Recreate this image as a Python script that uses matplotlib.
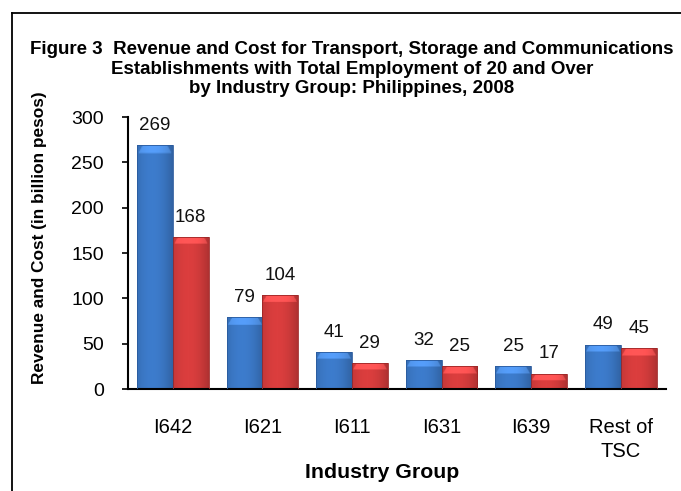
import numpy as np
import matplotlib
matplotlib.use("Agg")
import matplotlib.pyplot as plt
from matplotlib.lines import Line2D
from matplotlib.colors import to_rgb

plt.rcParams['font.family'] = ['Liberation Sans', 'DejaVu Sans']

categories = ["I642", "I621", "I611", "I631", "I639", "Rest of\nTSC"]
revenue = [269, 79, 41, 32, 25, 49]
cost = [168, 104, 29, 25, 17, 45]
yticks = [0, 50, 100, 150, 200, 250, 300]

title = ("Figure 3  Revenue and Cost for Transport, Storage and Communications\n"
         "Establishments with Total Employment of 20 and Over\n"
         "by Industry Group: Philippines, 2008")

W, H = 681, 491
fig = plt.figure(figsize=(W / 100, H / 100), dpi=100)
ax = fig.add_axes([128 / W, 1 - 389 / H, (665.6 - 128) / W, (389 - 117) / H])

x = np.arange(len(categories))
bw = 0.40

def shaded(ax, bars, base, edge):
    base = np.array(to_rgb(base))
    for b in bars:
        x0, y0 = b.get_x(), b.get_y()
        w, h = b.get_width(), b.get_height()
        nx, ny = 60, 120
        t = np.linspace(0, 1, nx)
        prof = 0.80 + 0.28 * np.sin(np.pi * (0.15 + 0.7 * t)) - 0.10 * t
        img = np.clip(base[None, None, :] * prof[None, :, None] * np.ones((ny, 1, 1)), 0, 1)
        # top bevel highlight (trapezoid)
        band = min(8.0 / h, 0.45)
        rows = np.linspace(0, 1, ny)  # 0 = top
        for r in range(ny):
            if rows[r] < band:
                frac = rows[r] / band
                inset = 0.12 * (1 - frac) + 0.02
                m = (t > inset) & (t < 1 - inset)
                img[r, m] = np.clip(img[r, m] * 1.15 + 0.06, 0, 1)
        im = ax.imshow(img, extent=(x0, x0 + w, y0, y0 + h), aspect='auto',
                       origin='upper', zorder=2, interpolation='bilinear')
        im.set_clip_path(b)
        b.set_facecolor('none')
        b.set_edgecolor(edge)
        b.set_linewidth(0.6)
        b.set_zorder(3)

b1 = ax.bar(x - bw / 2, revenue, bw, color='#3b78c6')
b2 = ax.bar(x + bw / 2, cost, bw, color='#d43c3c')
shaded(ax, b1, '#3b78c6', '#2a5a9c')
shaded(ax, b2, '#d43c3c', '#9c2626')

for bars, vals in ((b1, revenue), (b2, cost)):
    for b, v in zip(bars, vals):
        ax.annotate(f"{v}", (b.get_x() + b.get_width() / 2, v),
                    xytext=(0, 8), textcoords='offset points',
                    ha='center', va='bottom', fontsize=13.5, color='#111111')

ax.set_xlim(-0.5, len(categories) - 0.5)
ax.set_ylim(0, 300)
ax.set_yticks(yticks)
ax.set_yticklabels([str(v) for v in yticks], fontsize=14)
ax.set_xticks(x)
ax.set_xticklabels(categories, fontsize=14.5, linespacing=1.35)
ax.tick_params(axis='x', length=0, pad=21)
ax.tick_params(axis='y', direction='out', length=4.5, width=1.2, pad=13)
for s in ('top', 'right'):
    ax.spines[s].set_visible(False)
for s in ('left', 'bottom'):
    ax.spines[s].set_linewidth(1.5)
    ax.spines[s].set_color('black')

fig.text(40 / W, 1 - 238 / H, "Revenue and Cost (in billion pesos)", rotation=90,
         ha='center', va='center', fontsize=12.4, fontweight='bold')
fig.text(382 / W, 1 - 472 / H, "Industry Group", ha='center', va='center',
         fontsize=15.3, fontweight='bold')
fig.text(352 / W, 1 - 69 / H, title, ha='center', va='center', fontsize=13.5,
         fontweight='bold', linespacing=1.2)

fig.add_artist(Line2D([11.5 / W, 11.5 / W], [0, 1 - 12.5 / H], transform=fig.transFigure,
                      color='black', lw=1.3))
fig.add_artist(Line2D([11.5 / W, 1.0], [1 - 12.5 / H, 1 - 12.5 / H], transform=fig.transFigure,
                      color='black', lw=1.3))

fig.savefig("out.png", dpi=100)
